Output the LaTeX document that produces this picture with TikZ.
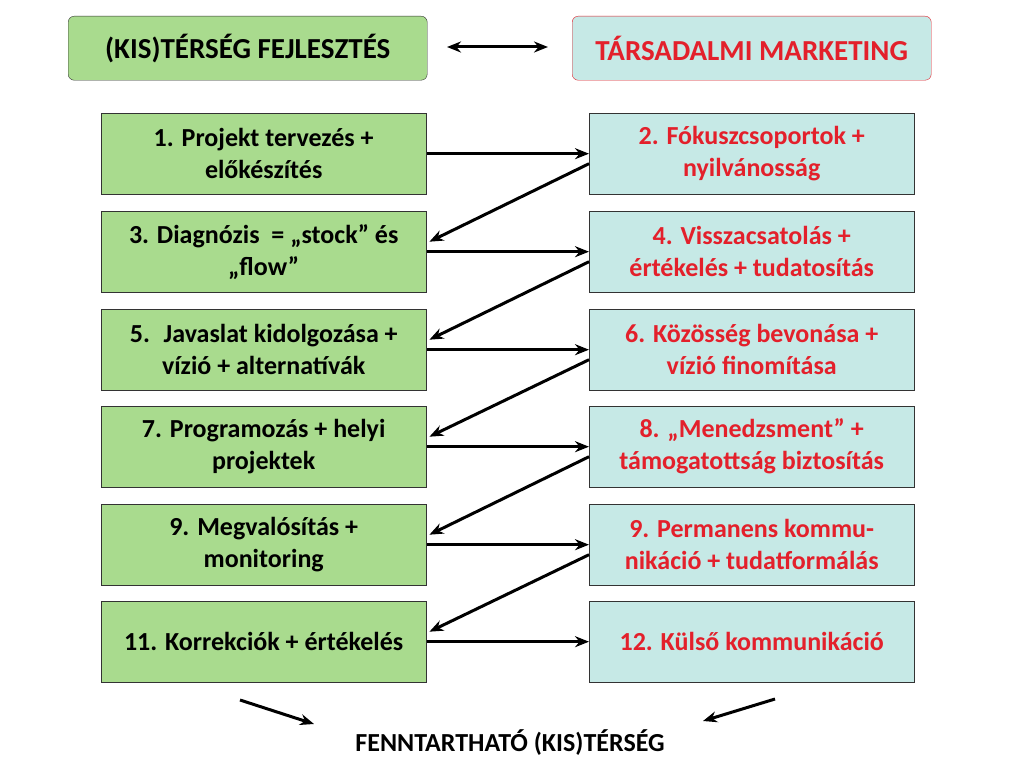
\documentclass[tikz,border=0pt]{standalone}
\usepackage{fontspec}
\setmainfont{Carlito}
\usetikzlibrary{arrows.meta}
\definecolor{gbox}{HTML}{A9DB8E}
\definecolor{cbox}{HTML}{C6E9E6}
\definecolor{rtext}{HTML}{E3202B}
\tikzset{
 lbox/.style={draw=black!80,fill=gbox,minimum width=325pt,minimum height=81pt,align=center,font=\bfseries\fontsize{26}{32}\selectfont,anchor=north west},
 rbox/.style={lbox,fill=cbox,text=rtext},
 conn/.style={line width=3pt,-{Stealth[length=14pt,width=11pt]}},
}
\begin{document}
\begin{tikzpicture}[x=1pt,y=-1pt]
\useasboundingbox[fill=white] (0,0) rectangle (1024,760);
\node[draw=black!80,fill=gbox,rounded corners=6pt,minimum width=359pt,minimum height=64pt,anchor=north west,font=\bfseries\fontsize{29}{34}\selectfont] (tl) at (68,16) {(KIS)TÉRSÉG FEJLESZTÉS};
\node[draw=rtext,fill=cbox,text=rtext,rounded corners=6pt,minimum width=359pt,minimum height=64pt,anchor=north west,font=\bfseries\fontsize{29}{34}\selectfont] (tr) at (572,16) {TÁRSADALMI MARKETING};
\coordinate (da) at (447,47); \coordinate (db) at (548,47);
\draw[line width=3pt,{Stealth[length=14pt,width=11pt]}-{Stealth[length=14pt,width=11pt]}] (da) -- (db);
\node[lbox] (l1) at (101,113) {1. Projekt tervezés +\\előkészítés};
\node[lbox] (l2) at (101,211) {3. Diagnózis \ = „stock” és\\„flow”};
\node[lbox] (l3) at (101,309) {5. \ Javaslat kidolgozása +\\vízió + alternatívák};
\node[lbox] (l4) at (101,406) {7. Programozás + helyi\\projektek};
\node[lbox] (l5) at (101,504) {9. Megvalósítás +\\monitoring};
\node[lbox] (l6) at (101,601) {11. Korrekciók + értékelés};
\node[rbox] (r1) at (589,113) {2. Fókuszcsoportok +\\nyilvánosság};
\node[rbox] (r2) at (589,211) {4. Visszacsatolás +\\értékelés + tudatosítás};
\node[rbox] (r3) at (589,309) {6. Közösség bevonása +\\vízió finomítása};
\node[rbox] (r4) at (589,406) {8. „Menedzsment” +\\támogatottság biztosítás};
\node[rbox] (r5) at (589,504) {9. Permanens kommu-\\nikáció + tudatformálás};
\node[rbox] (r6) at (589,601) {12. Külső kommunikáció};
\foreach \i in {1,...,6}{
  \draw[conn] ([xshift=1pt]l\i.east) -- (r\i.west);
}
\foreach \i/\j in {1/2,2/3,3/4,4/5,5/6}{
  \draw[conn] ([yshift=-10pt]r\i.west) -- ([xshift=3pt,yshift=10pt]l\j.east);
}
\node[font=\bfseries\fontsize{26}{30}\selectfont] (fin) at (510,743) {FENNTARTHATÓ (KIS)TÉRSÉG};
\coordinate (b1) at (240,700); \coordinate (b2) at (314,724);
\coordinate (b3) at (775,699); \coordinate (b4) at (703,721);
\draw[conn] (b1) -- (b2);
\draw[conn] (b3) -- (b4);
\end{tikzpicture}
\end{document}
